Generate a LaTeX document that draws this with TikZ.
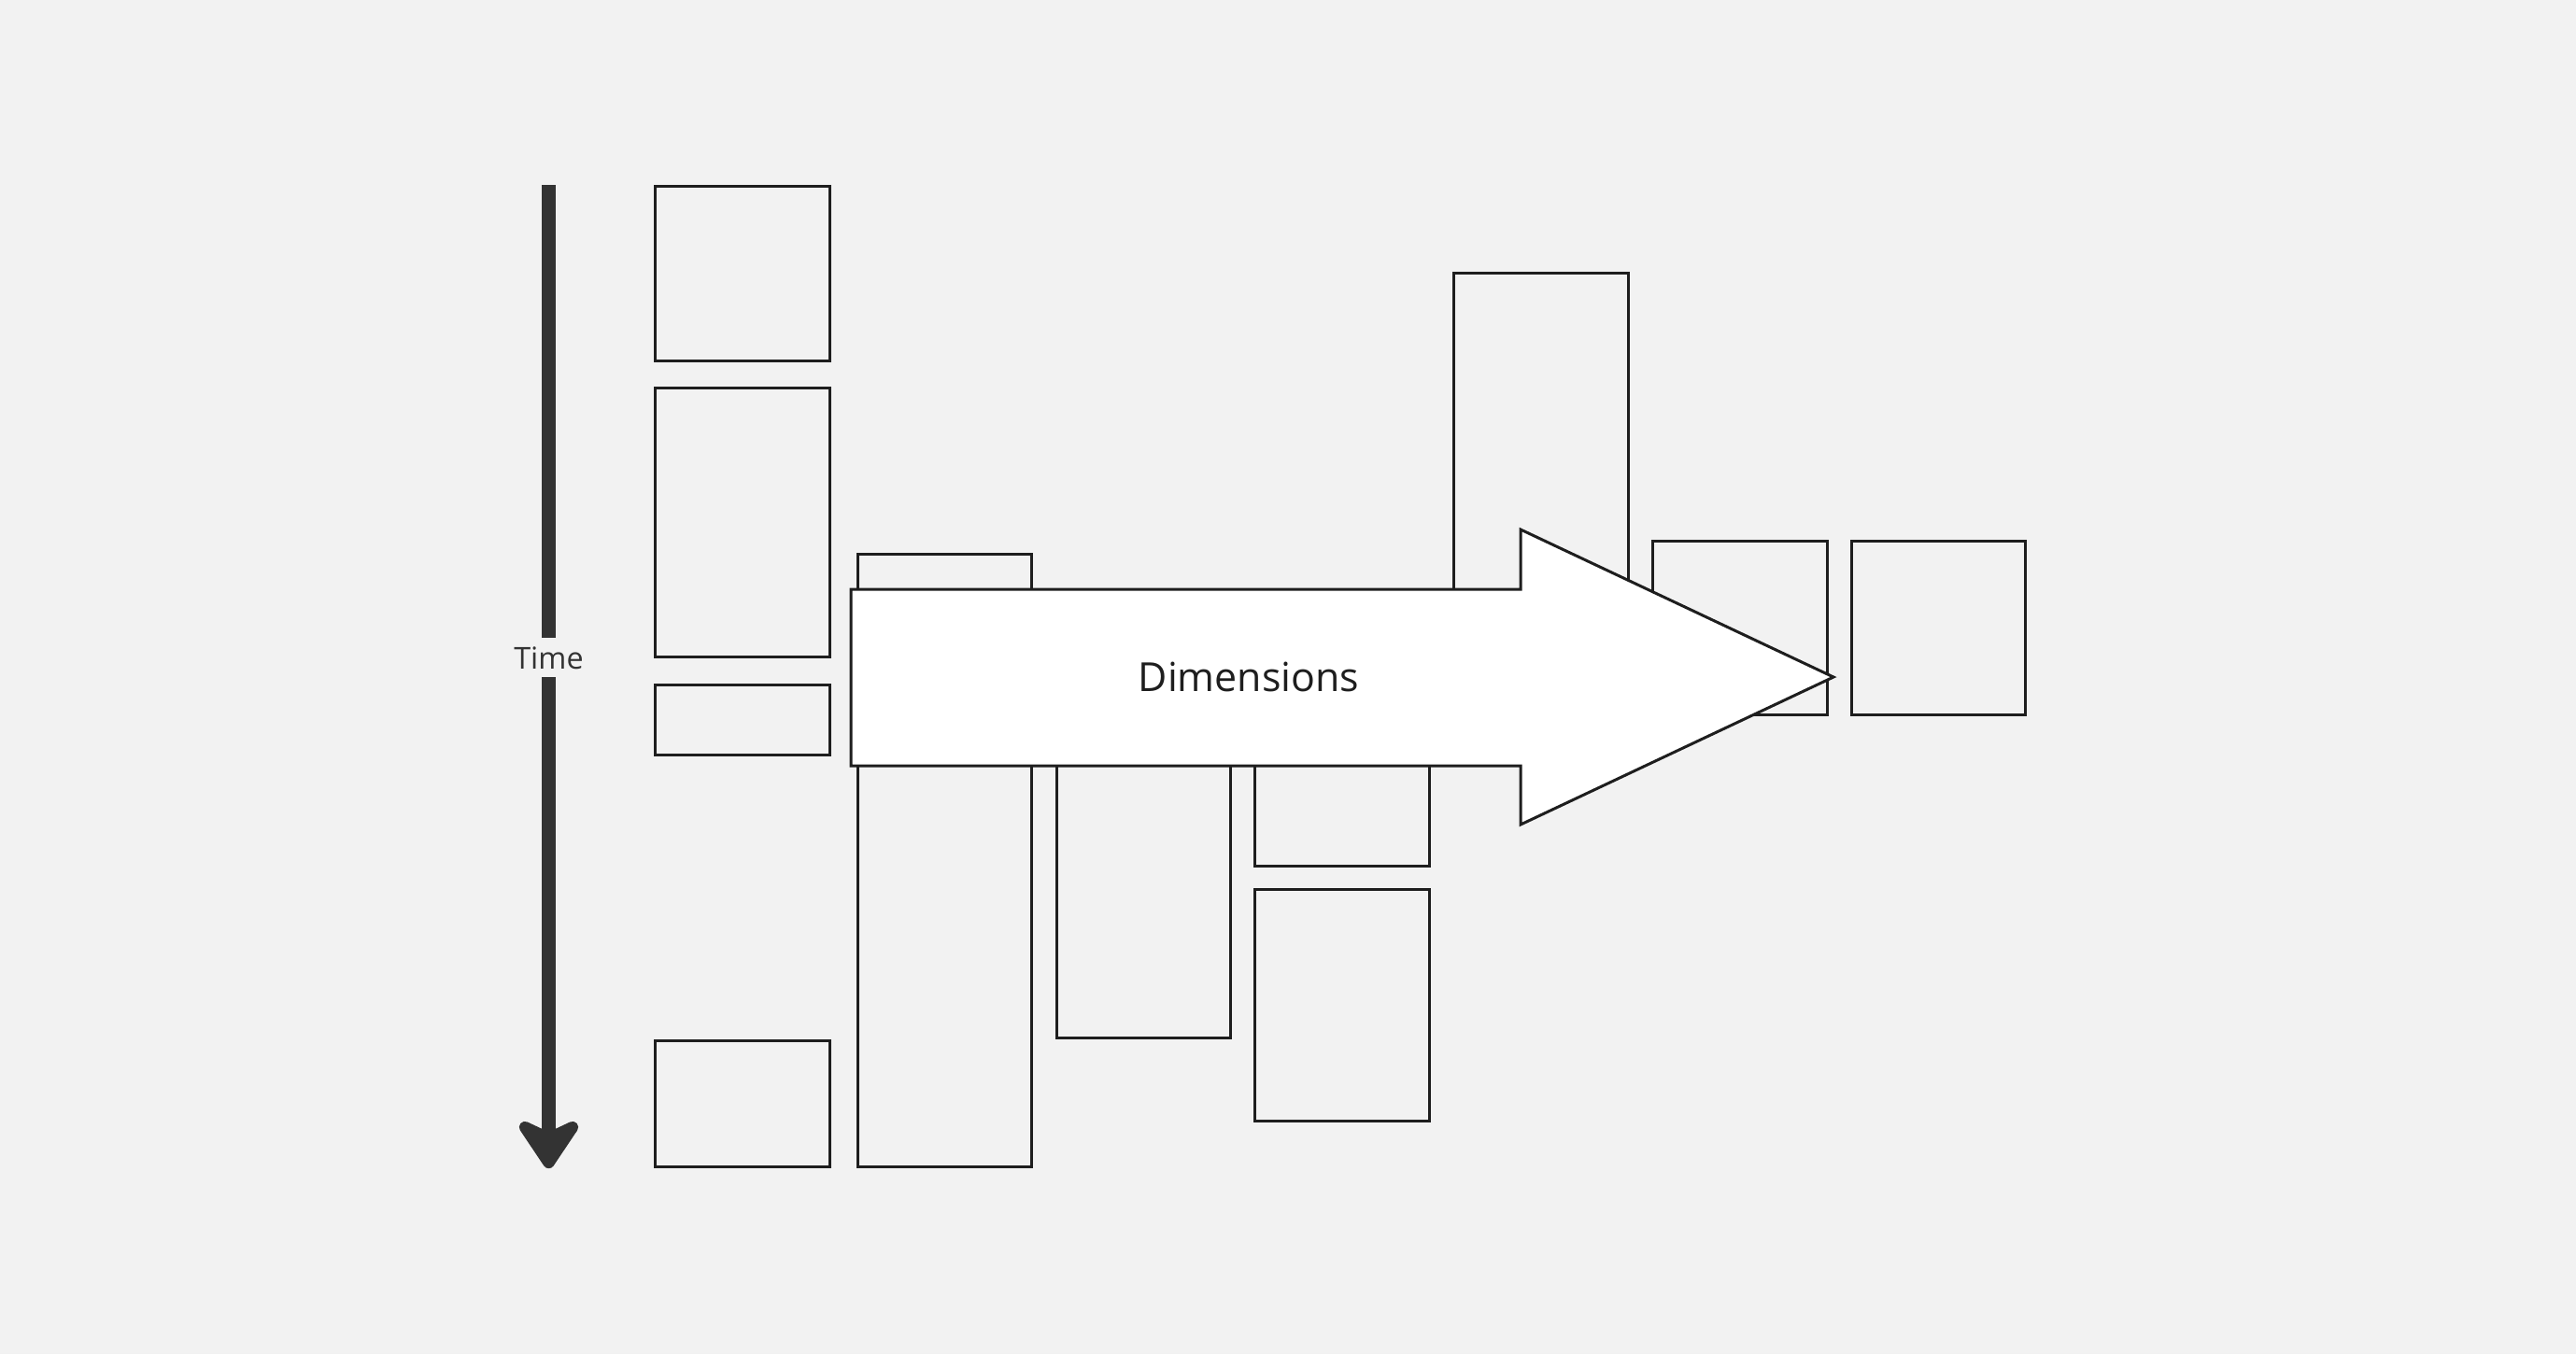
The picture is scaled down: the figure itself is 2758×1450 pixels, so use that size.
\documentclass[tikz,border=0pt]{standalone}
\usepackage{fontspec}
\setmainfont{Open Sans}
\usetikzlibrary{fit}
\definecolor{bg}{HTML}{F2F2F2}
\definecolor{ink}{HTML}{1E1E1E}
\definecolor{timeink}{HTML}{333333}
\tikzset{
  box/.style={draw=ink, line width=0.85pt, fill=bg, inner sep=0pt, rectangle},
  bigarrow/.style={draw=ink, line width=0.85pt, fill=white, line join=miter},
  timebar/.style={draw=timeink, line width=4pt},
  timehead/.style={draw=timeink, fill=timeink, line width=3.5pt, line join=round},
  lbl/.style={inner sep=0pt, text=ink}
}
\begin{document}
\begin{tikzpicture}[x=0.01cm, y=-0.01cm]
\fill[bg] (0,0) rectangle (2758,1450);
\useasboundingbox (0,0) rectangle (2758,1450);
% boxes
\node[box, fit={(701,199)(888,386)}] (A) {};
\node[box, fit={(701,415)(888,703)}] (B) {};
\node[box, fit={(701,733)(888,808)}] (C) {};
\node[box, fit={(701,1114)(888,1249)}] (D) {};
\node[box, fit={(918,593)(1104,1249)}] (E) {};
\node[box, fit={(1131,700)(1317,1111)}] (F) {};
\node[box, fit={(1343,760)(1530,927)}] (G) {};
\node[box, fit={(1343,952)(1530,1200)}] (H) {};
\node[box, fit={(1556,292)(1743,700)}] (I) {};
\node[box, fit={(1769,579)(1956,765)}] (J) {};
\node[box, fit={(1982,579)(2168,765)}] (K) {};
% big arrow
\draw[bigarrow] (911,631) -- (1628,631) -- (1628,567) -- (1963,725) -- (1628,883) -- (1628,820) -- (911,820) -- cycle;
\node[lbl, font=\fontsize{12.2pt}{15pt}\selectfont] (dim) at (1337,725) {Dimensions};
% time axis
\coordinate (ttop) at (587.5,198);
\coordinate (tgapa) at (587.5,683);
\coordinate (tgapb) at (587.5,725);
\coordinate (tend) at (587.5,1215);
\node[lbl, text=timeink, font=\fontsize{9.2pt}{11pt}\selectfont] (time) at (587.5,705) {Time};
\draw[timebar] (ttop) -- (tgapa);
\draw[timebar] (tgapb) -- (tend);
\draw[timehead] (587.5,1219) -- (562,1207) -- (587.5,1245) -- (613,1207) -- cycle;
\end{tikzpicture}
\end{document}
